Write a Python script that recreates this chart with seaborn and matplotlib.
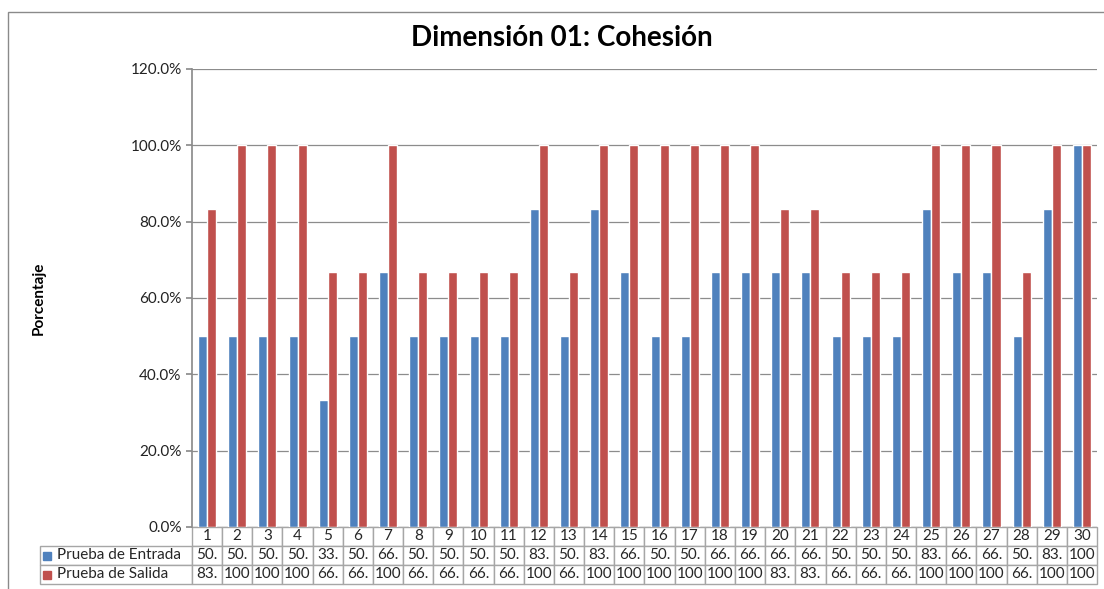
import matplotlib
matplotlib.use("Agg")
import matplotlib.pyplot as plt
from matplotlib.patches import Rectangle
from matplotlib.ticker import FuncFormatter
import pandas as pd
import seaborn as sns

# Datos (porcentaje por estudiante)
estudiantes = [str(i) for i in range(1, 31)]
entrada = [50.0, 50.0, 50.0, 50.0, 33.3, 50.0, 66.7, 50.0, 50.0, 50.0,
           50.0, 83.3, 50.0, 83.3, 66.7, 50.0, 50.0, 66.7, 66.7, 66.7,
           66.7, 50.0, 50.0, 50.0, 83.3, 66.7, 66.7, 50.0, 83.3, 100.0]
salida = [83.3, 100.0, 100.0, 100.0, 66.7, 66.7, 100.0, 66.7, 66.7, 66.7,
          66.7, 100.0, 66.7, 100.0, 100.0, 100.0, 100.0, 100.0, 100.0, 83.3,
          83.3, 66.7, 66.7, 66.7, 100.0, 100.0, 100.0, 66.7, 100.0, 100.0]
series = ["Prueba de Entrada", "Prueba de Salida"]
colores = ["#4F81BD", "#C0504D"]

df = pd.DataFrame({
    "Estudiante": estudiantes * 2,
    "Porcentaje": entrada + salida,
    "Prueba": [series[0]] * len(entrada) + [series[1]] * len(salida),
})

sns.set_theme(style="white")
plt.rcParams["font.family"] = ["Lato", "DejaVu Sans"]

fig = plt.figure(figsize=(11.04, 5.89), dpi=100)
ax = fig.add_axes([0.1739, 0.1053, 0.8198, 0.7776])

sns.barplot(data=df, x="Estudiante", y="Porcentaje", hue="Prueba",
            palette=colores, width=0.6, saturation=1, legend=False, ax=ax)

ax.set_ylim(0, 120)
ax.set_xlim(-0.5, len(estudiantes) - 0.5)
ax.set_yticks(range(0, 121, 20))
ax.yaxis.set_major_formatter(FuncFormatter(lambda v, p: f"{v:.1f}%"))
ax.tick_params(axis="y", labelsize=11, colors="#222222", length=4,
               color="#8c8c8c", direction="out", left=True)
ax.tick_params(axis="x", labelbottom=False, length=0)
ax.yaxis.grid(True, color="#8c8c8c", linewidth=0.9)
ax.set_axisbelow(True)
for s in ["top", "right", "bottom"]:
    ax.spines[s].set_visible(False)
ax.spines["left"].set_color("#8c8c8c")
ax.set_xlabel("")
ax.set_ylabel("Porcentaje", fontsize=11, fontweight="bold", color="black",
              fontstretch="condensed")
ax.yaxis.set_label_coords(-0.162, 0.5)

fig.text(0.509, 0.935, "Dimensión 01: Cohesión", ha="center", va="center",
         fontsize=20, fontweight="bold", color="black")

# Tabla de datos al pie del grafico
def corto(v):
    return f"{v:.1f}"[:3]

filas = [[""] + estudiantes,
         [series[0]] + [corto(v) for v in entrada],
         [series[1]] + [corto(v) for v in salida]]
ancho_etiqueta = 152 / 1057
ancho_col = (1 - ancho_etiqueta) / len(estudiantes)
tabla = ax.table(cellText=filas, cellLoc="center",
                 colWidths=[ancho_etiqueta] + [ancho_col] * len(estudiantes),
                 bbox=[-0.168, -0.1245, 1.168, 0.1245])
tabla.auto_set_font_size(False)
tabla.set_fontsize(11)
for (r, c), cell in tabla.get_celld().items():
    cell.set_edgecolor("#a6a6a6")
    cell.set_linewidth(1)
    if c == 0:
        cell.get_text().set_ha("left")
        cell.PAD = 0.11
tabla[0, 0].visible_edges = ""

for col, yk in zip(colores, [-0.0633, -0.1048]):
    ax.plot([-0.160], [yk], marker="s", ms=6, color=col,
            transform=ax.transAxes, clip_on=False)

fig.add_artist(Rectangle((8 / 1104, -0.05), 1.1, 1 - 12 / 589 + 0.05,
                         fill=False, edgecolor="#8a8a8a", linewidth=1,
                         transform=fig.transFigure))

fig.savefig("out.png", dpi=100)
